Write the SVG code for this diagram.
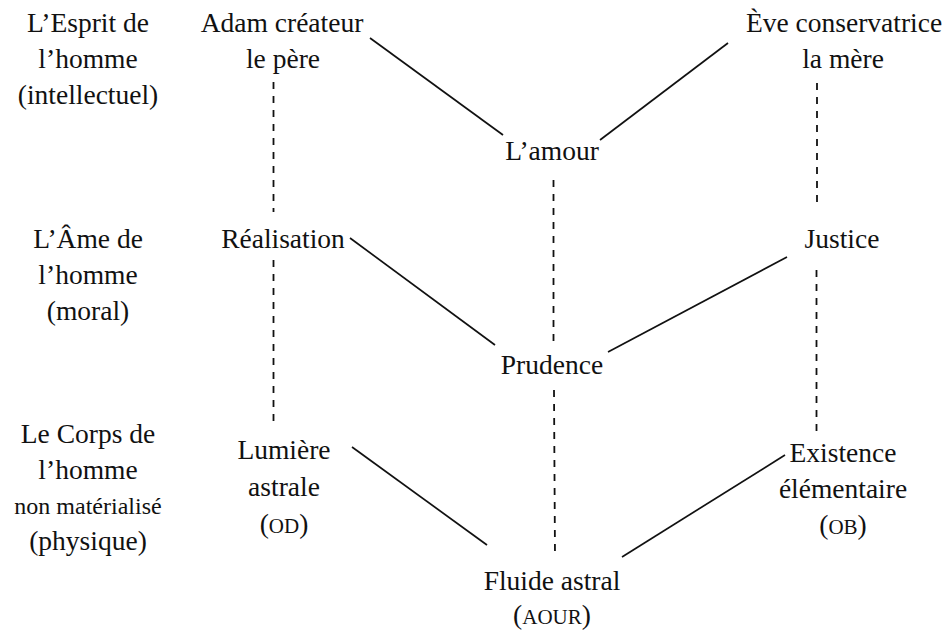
<svg xmlns="http://www.w3.org/2000/svg" width="946" height="635" viewBox="0 0 946 635">
<style>
text{font-family:"Liberation Serif","Times New Roman",serif;font-size:27.5px;fill:#111;text-anchor:middle}
.sm{font-size:24px}
.sc{font-size:21px}
.ln{stroke:#111;stroke-width:1.7;fill:none}
.ds{stroke:#111;stroke-width:1.8;fill:none;stroke-dasharray:7 7}
</style>
<rect width="946" height="635" fill="#fff"/>
<g id="connectors">
<line class="ln" x1="370" y1="38" x2="503" y2="135"/>
<line class="ln" x1="728" y1="43" x2="600" y2="140"/>
<line class="ln" x1="350" y1="238" x2="495" y2="345"/>
<line class="ln" x1="787" y1="257" x2="608" y2="352"/>
<line class="ln" x1="352" y1="447" x2="487" y2="545"/>
<line class="ln" x1="785" y1="455" x2="622" y2="557"/>
<line class="ds" x1="273.5" y1="82" x2="273.5" y2="212"/>
<line class="ds" x1="273.5" y1="260" x2="273.5" y2="428"/>
<line class="ds" x1="817" y1="83" x2="817" y2="206"/>
<line class="ds" x1="816.5" y1="270" x2="816.5" y2="438"/>
<line class="ds" x1="553.5" y1="180" x2="553.5" y2="347"/>
<line class="ds" x1="554" y1="390" x2="555" y2="557"/>
</g>
<g id="level-esprit">
<text x="88" y="32">L’Esprit de</text>
<text x="88" y="68">l’homme</text>
<text x="88" y="104">(intellectuel)</text>
</g>
<g id="level-ame">
<text x="88" y="248">L’Âme de</text>
<text x="88" y="284">l’homme</text>
<text x="88" y="320">(moral)</text>
</g>
<g id="level-corps">
<text x="88" y="443">Le Corps de</text>
<text x="88" y="479">l’homme</text>
<text x="88" y="514" class="sm">non matérialisé</text>
<text x="88" y="550">(physique)</text>
</g>
<g id="adam">
<text x="282" y="32">Adam créateur</text>
<text x="283" y="68">le père</text>
</g>
<g id="eve">
<text x="844" y="32">Ève conservatrice</text>
<text x="843" y="68">la mère</text>
</g>
<g id="amour">
<text x="552" y="160">L’amour</text>
</g>
<g id="realisation">
<text x="283" y="248">Réalisation</text>
</g>
<g id="justice">
<text x="842" y="248">Justice</text>
</g>
<g id="prudence">
<text x="552" y="374">Prudence</text>
</g>
<g id="lumiere">
<text x="284" y="459">Lumière</text>
<text x="284" y="496">astrale</text>
<text x="284" y="533">(<tspan class="sc">OD</tspan>)</text>
</g>
<g id="existence">
<text x="843" y="462">Existence</text>
<text x="843" y="498">élémentaire</text>
<text x="843" y="534">(<tspan class="sc">OB</tspan>)</text>
</g>
<g id="fluide">
<text x="552" y="590">Fluide astral</text>
<text x="552" y="624">(<tspan class="sc">AOUR</tspan>)</text>
</g>
</svg>
